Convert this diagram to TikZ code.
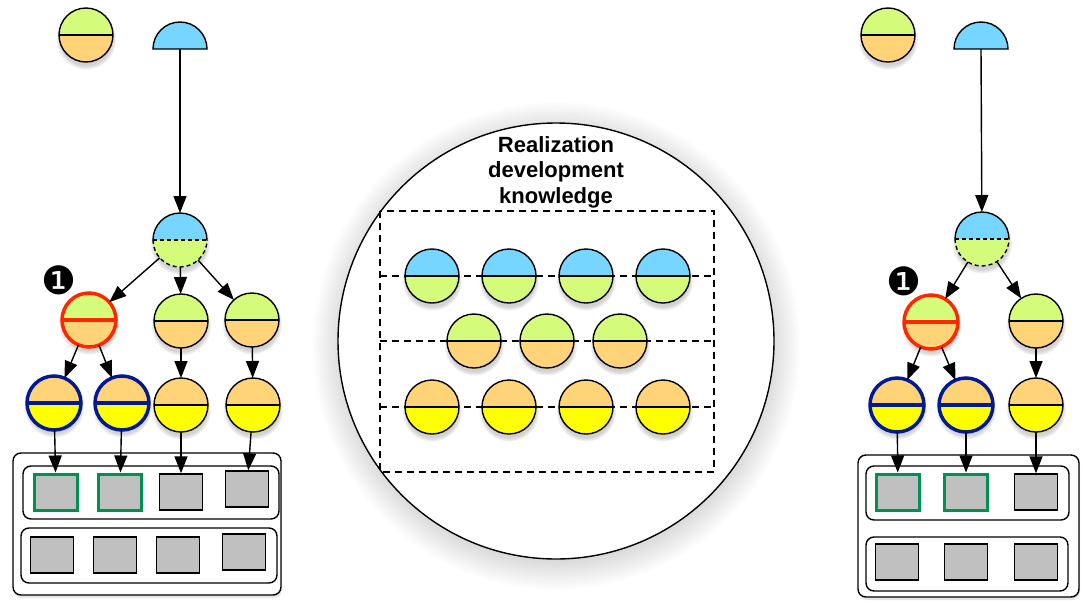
\documentclass[tikz,border=0pt]{standalone}
\usepackage{fontspec}
\setmainfont{Liberation Sans}
\newfontfamily\dingfont{DejaVu Sans}
\usetikzlibrary{shadows}
\usetikzlibrary{arrows.meta,shapes}
\usetikzlibrary{calc}
\definecolor{sky}{HTML}{76D6FF}
\definecolor{honeydew}{HTML}{D4FB79}
\definecolor{cantaloupe}{HTML}{FFD479}
\definecolor{lemon}{HTML}{FFFF00}
\definecolor{maraschino}{HTML}{FF2600}
\definecolor{midnight}{HTML}{011993}
\definecolor{moss}{HTML}{009051}
\definecolor{magnesium}{HTML}{C0C0C0}
\tikzstyle{softshadow}=[circular drop shadow={shadow xshift=0pt,shadow yshift=-4pt,shadow scale=1.12,opacity=.35}]
\tikzset{halves/.style n args={3}{circle,draw=#3,line width=1.4pt,minimum size=54pt,inner sep=0pt,outer sep=0pt,softshadow,
    path picture={
      \fill[#1] (path picture bounding box.north west) rectangle (path picture bounding box.east);
      \fill[#2] (path picture bounding box.west) rectangle (path picture bounding box.south east);
      \draw[#3,line width=\pgflinewidth] (path picture bounding box.west) -- (path picture bounding box.east);}}}
\tikzstyle{ghost}=[circle,minimum size=54pt,inner sep=0pt,outer sep=0pt,softshadow,
    path picture={
      \fill[sky] (path picture bounding box.north west) rectangle (path picture bounding box.east);
      \fill[honeydew] (path picture bounding box.west) rectangle (path picture bounding box.south east);
      \draw[line width=1.4pt,dash pattern=on 4pt off 3pt] (path picture bounding box.west) -- (path picture bounding box.east);}]
\tikzstyle{redrim}=[line width=3.5pt]
\tikzstyle{bluerim}=[line width=3.5pt]
\tikzstyle{link}=[draw,line width=1.4pt,-{Triangle[length=17pt,width=13pt]}]
\tikzstyle{slot}=[rectangle,draw,fill=magnesium,line width=1.4pt,minimum width=43pt,minimum height=36pt,inner sep=0pt]
\tikzstyle{greenslot}=[slot,draw=moss,line width=3pt]
\tikzstyle{tray}=[rectangle,draw,fill=white,rounded corners=8pt,line width=1.4pt,inner sep=0pt,drop shadow={opacity=.2,shadow xshift=1pt,shadow yshift=-3pt}]
\tikzstyle{shelf}=[rectangle,draw,rounded corners=8pt,line width=1.4pt,inner sep=0pt]
\tikzstyle{marker}=[font=\dingfont\fontsize{39}{39}\selectfont,inner sep=0pt]
\tikzstyle{grid}=[line width=1.4pt,dash pattern=on 7pt off 5pt]

\begin{document}
\begin{tikzpicture}[x=1pt,y=-1pt]
    \useasboundingbox (0,0) rectangle (1082,600);

    % realization knowledge in the middle
    \node[circle,draw,fill=white,line width=1.4pt,minimum size=436pt,inner sep=0pt,softshadow] (realm) at (556,341) {};
    \node[font=\bfseries\fontsize{22}{25.5}\selectfont,align=center,inner sep=0pt] (title) at (556,172) {Realization\\development\\knowledge};
    \draw[grid] (380,211) rectangle (714,472);
    \foreach \y in {276,341,407}
        \draw[grid] (380,\y) -- (714,\y);
    \foreach \x/\n in {432/1,509/2,586/3,663/4}
        \node[halves={sky}{honeydew}{black}] (kA\n) at (\x,276) {};
    \foreach \x/\n in {474/1,547/2,620/3}
        \node[halves={honeydew}{cantaloupe}{black}] (kB\n) at (\x,341) {};
    \foreach \x/\n in {432/1,509/2,586/3,663/4}
        \node[halves={cantaloupe}{lemon}{black}] (kC\n) at (\x,407) {};

    % left tree
    \node[halves={honeydew}{cantaloupe}{black}] (gL) at (86,35) {};
    \coordinate (sL) at (180,49);
    \filldraw[fill=sky,line width=1.4pt] ($(sL)+(-27,0)$) arc[start angle=180,end angle=360,radius=27] -- cycle;
    \node[ghost] (dL) at (180,240) {};
    \draw[line width=1.4pt] (dL.west) arc[start angle=180,end angle=360,radius=27];
    \draw[line width=1.4pt,dash pattern=on 4pt off 3pt] (dL.west) arc[start angle=180,end angle=0,radius=27];
    \node[halves={honeydew}{cantaloupe}{maraschino},redrim] (rL) at (89,320) {};
    \node[marker] (oneL) at (59,280) {❶};
    \foreach \pos/\name in {{(181,321)/mL},{(252,320)/nL}}
        \node[halves={honeydew}{cantaloupe}{black}] (\name) at \pos {};
    \foreach \pos/\name in {{(54,403)/bL1},{(122,403)/bL2}}
        \node[halves={cantaloupe}{lemon}{midnight},bluerim] (\name) at \pos {};
    \foreach \pos/\name in {{(181,405)/yL3},{(253,405)/yL4}}
        \node[halves={cantaloupe}{lemon}{black}] (\name) at \pos {};

    \node[tray,minimum width=268pt,minimum height=142pt] (trayL) at (147,524) {};
    \node[shelf,minimum width=256pt,minimum height=53pt] (shelfLa) at (151,492.5) {};
    \node[shelf,minimum width=256pt,minimum height=55pt] (shelfLb) at (149,555.5) {};
    \node[greenslot] (qL1) at (56,492) {};
    \node[greenslot] (qL2) at (120,492) {};
    \node[slot] (qL3) at (181,492) {};
    \node[slot] (qL4) at (247,489) {};
    \foreach \pos/\name in {{(52,555)/pL1},{(115,555)/pL2},{(178,555)/pL3},{(244,552)/pL4}}
        \node[slot] (\name) at \pos {};

    \foreach \source/\dest in {sL/dL, dL/rL, dL/mL, dL/nL, rL/bL1, rL/bL2, mL/yL3, nL/yL4, bL1/qL1, bL2/qL2, yL3/qL3, yL4/qL4}
        \path[link] (\source) -- (\dest);

    % right tree
    \node[halves={honeydew}{cantaloupe}{black}] (gR) at (888,35) {};
    \coordinate (sR) at (981,49);
    \filldraw[fill=sky,line width=1.4pt] ($(sR)+(-27,0)$) arc[start angle=180,end angle=360,radius=27] -- cycle;
    \node[ghost] (dR) at (982,239) {};
    \draw[line width=1.4pt] (dR.west) arc[start angle=180,end angle=360,radius=27];
    \draw[line width=1.4pt,dash pattern=on 4pt off 3pt] (dR.west) arc[start angle=180,end angle=0,radius=27];
    \node[halves={honeydew}{cantaloupe}{maraschino},redrim] (rR) at (931,322) {};
    \node[marker] (oneR) at (904,281) {❶};
    \node[halves={honeydew}{cantaloupe}{black}] (nR) at (1036,321) {};
    \foreach \pos/\name in {{(897,405)/bR1},{(966,405)/bR2}}
        \node[halves={cantaloupe}{lemon}{midnight},bluerim] (\name) at \pos {};
    \node[halves={cantaloupe}{lemon}{black}] (yR) at (1036,405) {};

    \node[tray,minimum width=221pt,minimum height=142pt] (trayR) at (968.5,526) {};
    \node[shelf,minimum width=203pt,minimum height=54pt] (shelfRa) at (967.5,493) {};
    \node[shelf,minimum width=202pt,minimum height=54pt] (shelfRb) at (967,564) {};
    \node[greenslot] (qR1) at (898,492) {};
    \node[greenslot] (qR2) at (966,492) {};
    \node[slot] (qR3) at (1036,492) {};
    \foreach \pos/\name in {{(897,562)/pR1},{(966,562)/pR2},{(1036,562)/pR3}}
        \node[slot] (\name) at \pos {};

    \foreach \source/\dest in {sR/dR, dR/rR, dR/nR, rR/bR1, rR/bR2, nR/yR, bR1/qR1, bR2/qR2, yR/qR3}
        \path[link] (\source) -- (\dest);

\end{tikzpicture}
\end{document}
